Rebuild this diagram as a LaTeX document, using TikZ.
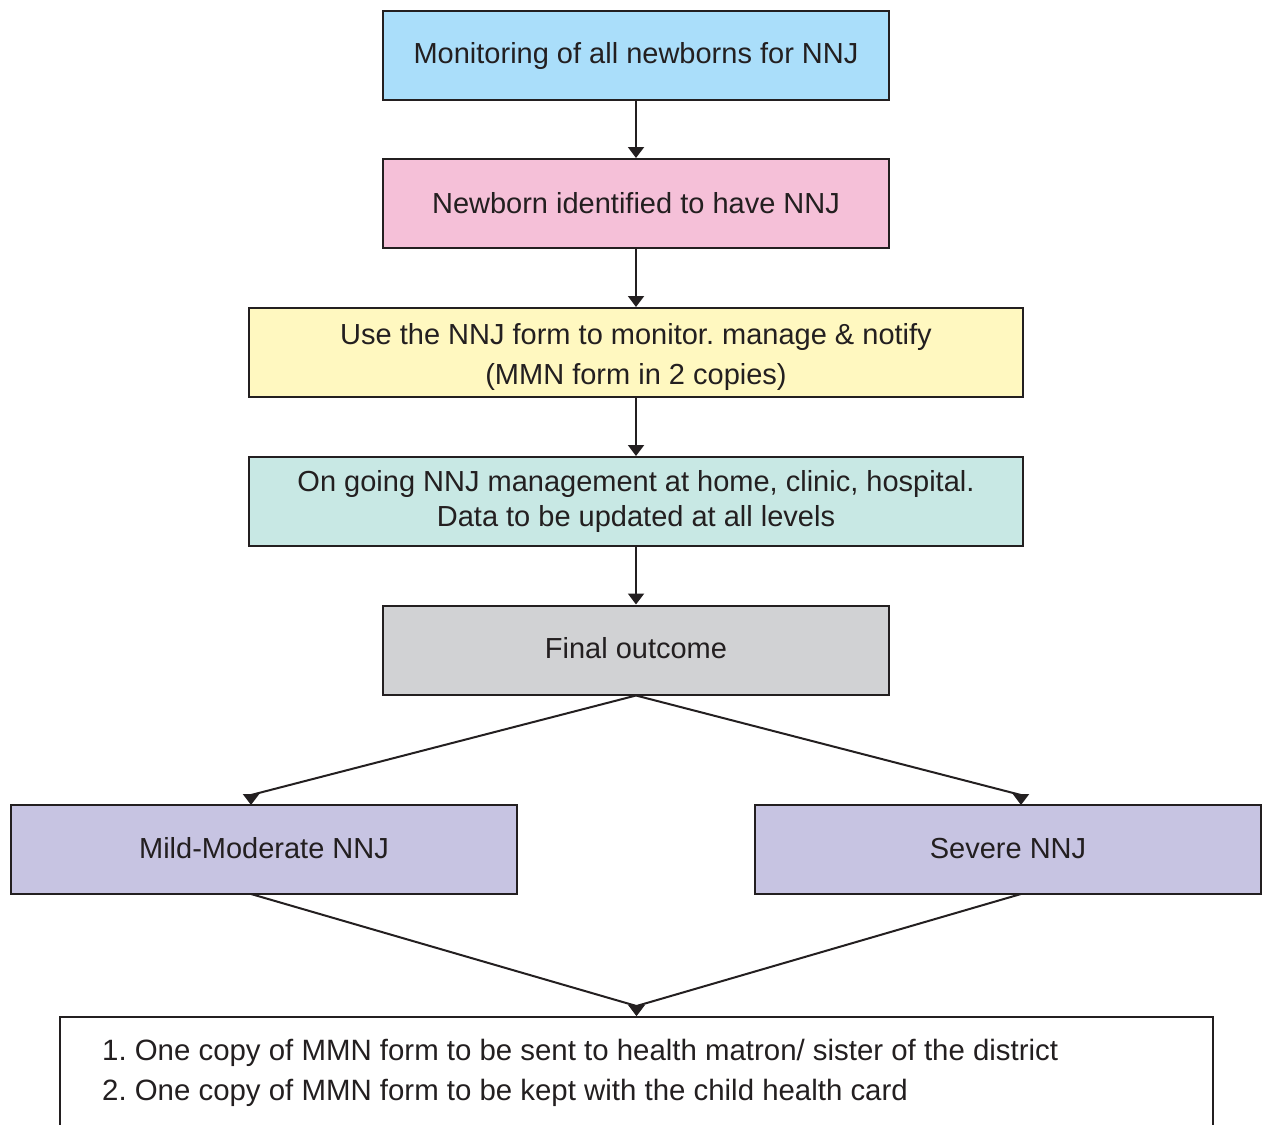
\documentclass[tikz,border=0pt]{standalone}
\usepackage{fontspec}
\setmainfont{Liberation Sans}
\usetikzlibrary{arrows.meta,calc}
\definecolor{linec}{RGB}{35,31,32}
\definecolor{cblue}{RGB}{170,222,250}
\definecolor{cpink}{RGB}{245,192,216}
\definecolor{cyellow}{RGB}{255,248,192}
\definecolor{cteal}{RGB}{200,232,228}
\definecolor{cgrey}{RGB}{209,210,212}
\definecolor{cpurple}{RGB}{199,196,226}
\newcommand\labelfont{\fontsize{29}{35}\selectfont\frenchspacing}
\newcommand\listfont{\fontsize{29.4}{35}\selectfont\frenchspacing}
% shift a label vertically without changing its size
\newcommand\nudge[2]{\raisebox{#1}[\height][\depth]{#2}}
\begin{document}
\begin{tikzpicture}[x=1pt,y=-1pt,
  stage/.style={draw=linec,line width=2pt,minimum height=89pt,inner sep=0pt,
    font=\labelfont,text=linec,align=center},
  narrow/.style={stage,minimum width=506pt},
  wide/.style={stage,minimum width=774pt},
  arr/.style={draw=linec,line width=2pt,-{Triangle[width=16pt,length=11pt]}}]
\useasboundingbox (0,0) rectangle (1263,1124);
\clip (0,0) rectangle (1263,1124);

% main column
\node[narrow,fill=cblue]   (monitor)  at (636,55.5)  {\nudge{-1pt}{Monitoring of all newborns for NNJ}};
\node[narrow,fill=cpink]   (ident)    at (636,203.5) {Newborn identified to have NNJ};
\node[wide,fill=cyellow]   (form)     at (636,352.5) {\nudge{-5pt}{\begin{tabular}{@{}c@{}}Use the NNJ form to monitor. manage \& notify\\[5pt](MMN form in 2 copies)\end{tabular}}};
\node[wide,fill=cteal]     (manage)   at (636,501.5) {On going NNJ management at home, clinic, hospital.\\Data to be updated at all levels};
\node[narrow,fill=cgrey]   (outcome)  at (636,650)   {\nudge{2pt}{Final outcome}};

% outcome branches
\node[narrow,fill=cpurple] (mild)     at (264,849.5)  {\nudge{1pt}{Mild-Moderate NNJ}};
\node[narrow,fill=cpurple] (severe)   at (1008,849.5) {\nudge{1pt}{Severe NNJ}};

% closing notes box (runs past the lower edge)
\node[draw=linec,line width=2pt,anchor=north,minimum width=1153pt,minimum height=160pt,inner sep=0pt]
  (notes) at (636.5,1016) {};
\node[anchor=west,align=left,font=\listfont,text=linec,inner sep=0pt] (list) at (102,1073)
  {1. One copy of MMN form to be sent to health matron/ sister of the district\\[5pt]
   2. One copy of MMN form to be kept with the child health card};

% vertical connectors
\draw[arr] (monitor) -- (ident);
\draw[arr] (ident) -- (form);
\draw[arr] (form) -- (manage);
\draw[arr] (manage) -- (outcome);

% branch connectors
\coordinate (mildin)  at (251,805);
\coordinate (sevin)   at (1021,805);
\coordinate (mildout) at (251,894);
\coordinate (sevout)  at (1021,894);
\draw[arr] (outcome.south) -- ($(mildin)+(0,-10)$) -- (mildin);
\draw[arr] (outcome.south) -- ($(sevin)+(0,-10)$) -- (sevin);
\draw[arr] (mildout) -- ($(notes.north)+(0,-10)$) -- (notes.north);
\draw[arr] (sevout) -- ($(notes.north)+(0,-10)$) -- (notes.north);
\end{tikzpicture}
\end{document}
